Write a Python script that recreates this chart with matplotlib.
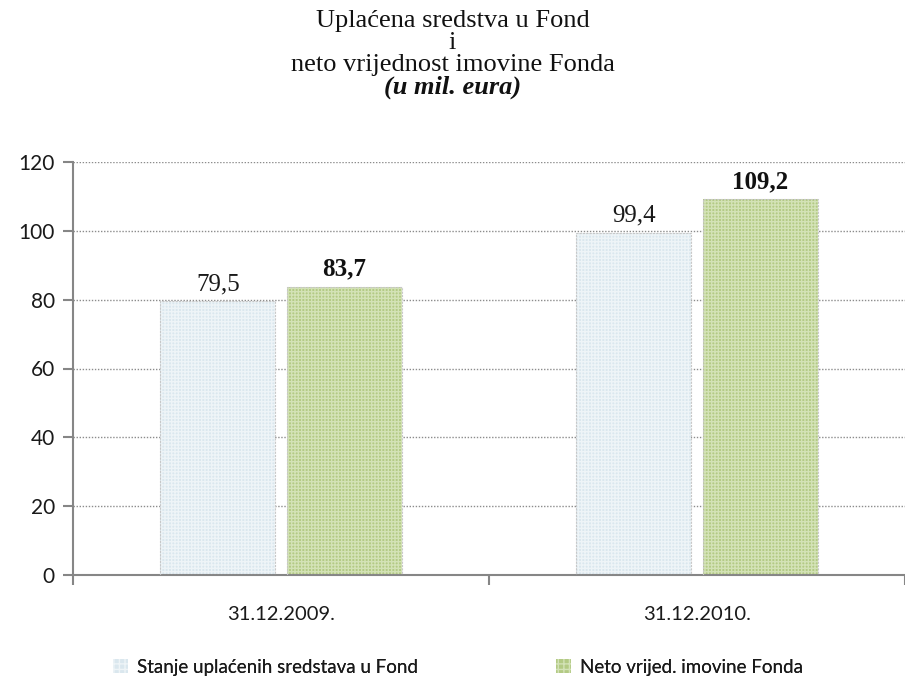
import matplotlib
matplotlib.use("Agg")
import matplotlib.pyplot as plt
import numpy as np
from matplotlib.patches import Patch

categories = ["31.12.2009.", "31.12.2010."]
series_names = ["Stanje uplaćenih sredstava u Fond", "Neto vrijed. imovine Fonda"]
uplacena = [79.5, 99.4]
neto = [83.7, 109.2]
labels_uplacena = ["79,5", "99,4"]
labels_neto = ["83,7", "109,2"]
yticks = [0, 20, 40, 60, 80, 100, 120]

W, H = 905, 686
fig = plt.figure(figsize=(W / 100, H / 100), dpi=100)
ax = fig.add_axes([73 / W, 111 / H, (W - 73) / W, 413 / H])

plt.rcParams['hatch.linewidth'] = 1.0
x = np.arange(len(categories))
bw = 0.277
off = 0.152
blue_face, blue_hatch = "#DAE7EE", "#EEF4F7"
green_face, green_hatch = "#B3CA84", "#D3E2B6"

for vals, dx, fc, hc in [(uplacena, -off, blue_face, blue_hatch), (neto, off, green_face, green_hatch)]:
    ax.bar(x + dx, vals, bw, color=fc, edgecolor=hc, linewidth=0, hatch="+++++", zorder=2)
    ax.bar(x + dx, vals, bw, fill=False, edgecolor="#C8C8C8", linewidth=0.8, linestyle=(0, (2, 1)), zorder=3)

for i in range(len(categories)):
    ax.text(x[i] - off, uplacena[i] + 1.8, labels_uplacena[i], ha="center", va="bottom",
            fontfamily="Liberation Serif", fontsize=18, color="#1a1a1a")
    ax.text(x[i] + off, neto[i] + 1.8, labels_neto[i], ha="center", va="bottom",
            fontfamily="Liberation Serif", fontsize=18, fontweight="bold", color="#111111")

ax.set_ylim(0, 120)
ax.set_xlim(-0.5, 1.5 - 6 / 419)
ax.set_yticks(yticks)
ax.set_yticklabels([str(v) for v in yticks], fontfamily="Lato", fontsize=15, color="#1a1a1a")
ax.yaxis.grid(True, color="#8C8C8C", linestyle=(0, (1, 1.2)), linewidth=1.0, zorder=0)
ax.set_axisbelow(True)

ax.set_xticks([-0.5, 0.5, 1.5])
ax.set_xticklabels([])
ax.set_xticks(x, minor=True)
ax.set_xticklabels(categories, minor=True, fontfamily="Lato", fontsize=14.5, color="#1a1a1a")
ax.tick_params(axis="x", which="minor", length=0, pad=22)
ax.tick_params(axis="x", which="major", length=7, width=1.5, color="#868686", direction="out")
ax.tick_params(axis="y", length=7, width=1.5, color="#868686", direction="out", pad=6)

for s in ["top", "right"]:
    ax.spines[s].set_visible(False)
for s in ["left", "bottom"]:
    ax.spines[s].set_color("#868686")
    ax.spines[s].set_linewidth(1.5)

# Title
tkw = dict(ha="center", va="center", fontfamily="Liberation Serif", fontsize=19, color="#111111")
fig.text(0.5, 1 - 21 / H, "Uplaćena sredstva u Fond", **tkw)
fig.text(0.5, 1 - 43 / H, "i", **tkw)
fig.text(0.5, 1 - 65 / H, "neto vrijednost imovine Fonda", **tkw)
fig.text(0.5, 1 - 87 / H, "(u mil. eura)", fontweight="bold", fontstyle="italic", **tkw)

# Legend: two entries placed separately
faces = [(blue_face, blue_hatch), (green_face, green_hatch)]
lefts = [113 / W, 556 / W]
for name, (fc, hc), lx in zip(series_names, faces, lefts):
    h = Patch(facecolor=fc, edgecolor=hc, hatch="+++", linewidth=0)
    leg = fig.legend([h], [name], loc="center left", bbox_to_anchor=(lx, 1 - 667 / H),
                     frameon=False, prop={"family": "Lato", "size": 13.5}, handlelength=0.8,
                     handleheight=0.8, handletextpad=0.5, borderpad=0, borderaxespad=0)
    for t in leg.get_texts():
        t.set_color("#1a1a1a")
    fig.add_artist(leg)

fig.savefig("out.png", dpi=100)
